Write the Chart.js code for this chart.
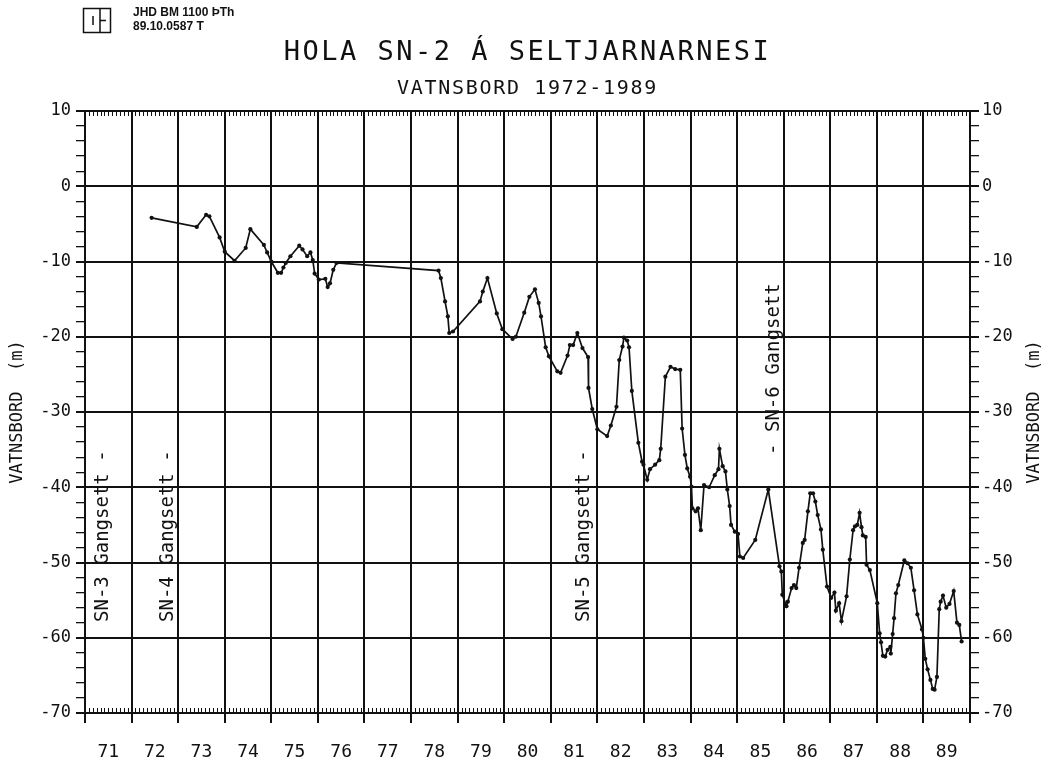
<!DOCTYPE html>
<html>
<head>
<meta charset="utf-8">
<script src="https://cdn.jsdelivr.net/npm/chart.js@4.4.0/dist/chart.umd.min.js"></script>
<style>
  html, body { margin: 0; padding: 0; background: #fff; }
  canvas { display: block; }
</style>
</head>
<body>
<canvas id="chart" width="1050" height="766"></canvas>
<script>
// water level in well SN-2 (decimal year, metres)
const years = [
  1972.43, 1973.40, 1973.60, 1973.67, 1973.89, 1974.00, 1974.21, 1974.45, 1974.55, 1974.84,
  1974.91, 1975.00, 1975.14, 1975.21, 1975.26, 1975.31, 1975.41, 1975.60, 1975.67, 1975.77,
  1975.84, 1975.89, 1975.93, 1976.02, 1976.16, 1976.21, 1976.26, 1976.33, 1976.40,
  1978.59, 1978.64, 1978.73, 1978.79, 1978.82, 1978.90, 1979.48, 1979.54, 1979.64, 1979.84,
  1979.96, 1980.18, 1980.25, 1980.43, 1980.54, 1980.66, 1980.74, 1980.79, 1980.89, 1980.96,
  1981.14, 1981.21, 1981.36, 1981.41, 1981.48, 1981.57, 1981.68, 1981.80, 1981.81, 1981.89,
  1982.00, 1982.21, 1982.29, 1982.41, 1982.47, 1982.54, 1982.57, 1982.64, 1982.68, 1982.74,
  1982.88, 1982.96, 1982.99, 1983.07, 1983.13, 1983.24, 1983.33, 1983.36, 1983.46, 1983.57,
  1983.67, 1983.78, 1983.82, 1983.88, 1983.93, 1983.99, 1984.02, 1984.04, 1984.11, 1984.16,
  1984.22, 1984.29, 1984.40, 1984.52, 1984.60, 1984.62, 1984.69, 1984.75, 1984.79, 1984.84,
  1984.87, 1984.95, 1985.02, 1985.06, 1985.13, 1985.39, 1985.67, 1985.91, 1985.95, 1985.97,
  1986.06, 1986.09, 1986.17, 1986.22, 1986.27, 1986.33, 1986.41, 1986.45, 1986.52, 1986.57,
  1986.63, 1986.68, 1986.73, 1986.80, 1986.84, 1986.93, 1987.02, 1987.09, 1987.12, 1987.19,
  1987.24, 1987.35, 1987.42, 1987.49, 1987.53, 1987.58, 1987.63, 1987.67, 1987.70, 1987.76,
  1987.78, 1987.85, 1988.01, 1988.06, 1988.09, 1988.13, 1988.18, 1988.23, 1988.29, 1988.30,
  1988.34, 1988.37, 1988.41, 1988.46, 1988.59, 1988.66, 1988.73, 1988.80, 1988.87, 1988.97,
  1989.00, 1989.04, 1989.09, 1989.15, 1989.20, 1989.24, 1989.29, 1989.34, 1989.37, 1989.42,
  1989.49, 1989.56, 1989.65, 1989.72, 1989.77, 1989.82
];
const levels = [
  -4.2, -5.4, -3.8, -4.0, -6.8, -8.7, -9.9, -8.2, -5.7, -7.8,
  -8.8, -10.0, -11.5, -11.5, -10.8, -10.2, -9.3, -7.9, -8.4, -9.3,
  -8.8, -9.8, -11.6, -12.4, -12.3, -13.4, -12.9, -11.1, -10.2,
  -11.2, -12.2, -15.3, -17.3, -19.5, -19.3, -15.3, -14.0, -12.2, -16.9,
  -19.0, -20.3, -20.0, -16.8, -14.7, -13.7, -15.5, -17.3, -21.4, -22.6,
  -24.6, -24.8, -22.5, -21.1, -21.1, -19.5, -21.5, -22.7, -26.8, -29.6,
  -32.3, -33.2, -31.8, -29.3, -23.1, -21.3, -20.1, -20.5, -21.4, -27.2,
  -34.1, -36.6, -37.0, -39.0, -37.6, -37.0, -36.4, -34.9, -25.3, -24.0,
  -24.3, -24.4, -32.2, -35.7, -37.5, -38.6, -39.9, -42.8, -43.2, -42.8,
  -45.7, -39.7, -40.0, -38.4, -37.6, -34.9, -37.2, -37.9, -40.3, -42.5,
  -45.0, -45.9, -46.2, -49.2, -49.4, -47.0, -40.3, -50.5, -51.2, -54.3,
  -55.8, -55.2, -53.4, -53.0, -53.4, -50.7, -47.4, -47.0, -43.2, -40.8,
  -40.8, -41.9, -43.7, -45.6, -48.3, -53.2, -54.7, -54.0, -56.4, -55.4,
  -57.8, -54.5, -49.6, -45.7, -45.2, -45.0, -43.4, -45.3, -46.4, -46.6,
  -50.3, -51.0, -55.4, -59.4, -60.6, -62.4, -62.5, -61.6, -61.2, -62.1,
  -59.5, -57.4, -54.1, -53.0, -49.7, -50.1, -50.7, -53.7, -56.9, -58.9,
  -60.0, -62.8, -64.2, -65.6, -66.8, -66.9, -65.2, -56.2, -55.2, -54.4,
  -56.0, -55.5, -53.8, -58.0, -58.3, -60.5
];
const yearLabels = ['71', '72', '73', '74', '75', '76', '77', '78', '79', '80',
                    '81', '82', '83', '84', '85', '86', '87', '88', '89'];
const levelMin = -70;
const levelMax = 10;

// "gangsett" (put into service) notes for neighbouring wells
const wellNotes = ['SN-3 Gangsett -', 'SN-4 Gangsett -', 'SN-5 Gangsett -', '- SN-6 Gangsett'];
const wellNoteYears = [1971.39, 1972.78, 1981.71, 1985.80];
const wellNoteLevels = [-57.9, -57.9, -57.9, -35.7];

const INK = '#111';
const MONO = '"DejaVu Sans Mono", monospace';

function isYear(c) {
  return c.tick && Number.isInteger(c.tick.value);
}
function isMajor(c) {
  return c.tick && c.tick.value % 10 === 0;
}

const decor = {
  id: 'decor',
  afterDraw(chart) {
    const ctx = chart.ctx;
    const xs = chart.scales.x, ys = chart.scales.y;
    const area = chart.chartArea;
    ctx.save();
    ctx.strokeStyle = INK;
    ctx.fillStyle = INK;

    // month ticks along top and bottom frame
    ctx.lineWidth = 1;
    ctx.beginPath();
    for (let yr = 1971; yr < 1990; yr++) {
      for (let m = 1; m < 12; m++) {
        const px = Math.round(xs.getPixelForValue(yr + m / 12)) + 0.5;
        ctx.moveTo(px, area.bottom);
        ctx.lineTo(px, area.bottom - 5);
        ctx.moveTo(px, area.top);
        ctx.lineTo(px, area.top + 5);
      }
    }
    ctx.stroke();

    // logo box
    ctx.lineWidth = 1.5;
    ctx.strokeRect(83.5, 8.5, 27, 24);
    ctx.beginPath();
    ctx.moveTo(100, 8.5); ctx.lineTo(100, 32.5);
    ctx.moveTo(100, 20.5); ctx.lineTo(106, 20.5);
    ctx.moveTo(93, 16); ctx.lineTo(93, 25);
    ctx.stroke();
    ctx.font = 'bold 12px "Liberation Sans", Arial, sans-serif';
    ctx.textAlign = 'left';
    ctx.textBaseline = 'middle';
    ctx.fillText('JHD BM 1100 ÞTh', 133, 13);
    ctx.fillText('89.10.0587 T', 133, 27);

    // titles
    const cx = (area.left + area.right) / 2;
    ctx.textAlign = 'center';
    ctx.font = '27px ' + MONO;
    ctx.letterSpacing = '2.5px';
    ctx.fillText('HOLA SN-2 Á SELTJARNARNESI', cx, 53);
    ctx.font = '20px ' + MONO;
    ctx.letterSpacing = '1.7px';
    ctx.fillText('VATNSBORD 1972-1989', cx, 89);
    ctx.letterSpacing = '0px';

    // axis titles, both read bottom to top
    ctx.font = '17px ' + MONO;
    const midY = (area.top + area.bottom) / 2;
    [18, 1035].forEach(x => {
      ctx.save();
      ctx.translate(x, midY);
      ctx.rotate(-Math.PI / 2);
      ctx.textAlign = 'center';
      ctx.fillText('VATNSBORD  (m)', 0, 0);
      ctx.restore();
    });

    // well notes
    ctx.font = '19px ' + MONO;
    wellNotes.forEach((t, i) => {
      const px = xs.getPixelForValue(wellNoteYears[i]);
      const py = ys.getPixelForValue(wellNoteLevels[i]);
      ctx.save();
      ctx.translate(px, py);
      ctx.rotate(-Math.PI / 2);
      ctx.textAlign = 'left';
      ctx.fillText(t, 0, 0);
      ctx.restore();
    });
    ctx.restore();
  }
};

const yearTicks = [];
for (let i = 0; i <= yearLabels.length; i++) {
  yearTicks.push({ value: 1971 + i });
  if (i < yearLabels.length) yearTicks.push({ value: 1971.5 + i });
}
const levelTicks = [];
for (let v = levelMin; v <= levelMax; v += 2) levelTicks.push({ value: v });

const tickFont = { family: MONO, size: 17 };

new Chart(document.getElementById('chart'), {
  type: 'line',
  data: {
    datasets: [{
      data: years.map((x, i) => ({ x: x, y: levels[i] })),
      borderColor: INK,
      borderWidth: 1.7,
      pointRadius: 2.1,
      pointBackgroundColor: INK,
      pointBorderWidth: 0,
      tension: 0
    }]
  },
  options: {
    responsive: false,
    animation: false,
    devicePixelRatio: 1,
    layout: { padding: { top: 111, left: 0, right: 0, bottom: 0 } },
    plugins: { legend: { display: false }, tooltip: { enabled: false } },
    scales: {
      x: {
        type: 'linear',
        min: 1971,
        max: 1990,
        afterBuildTicks: axis => { axis.ticks = yearTicks.map(t => ({ value: t.value })); },
        afterFit: s => { s.height = 53; },
        grid: {
          color: c => isYear(c) ? INK : 'transparent',
          tickColor: c => isYear(c) ? INK : 'transparent',
          lineWidth: 2,
          tickLength: 10
        },
        border: { color: INK, width: 2 },
        ticks: {
          autoSkip: false,
          maxRotation: 0,
          padding: 19,
          color: INK,
          font: { family: MONO, size: 18 },
          callback: v => Number.isInteger(v) ? '' : yearLabels[Math.floor(v) - 1971]
        }
      },
      y: {
        type: 'linear',
        position: 'left',
        min: levelMin,
        max: levelMax,
        afterBuildTicks: axis => { axis.ticks = levelTicks.map(t => ({ value: t.value })); },
        afterFit: s => { s.width = 85; },
        grid: {
          color: c => isMajor(c) ? INK : 'transparent',
          tickColor: INK,
          lineWidth: c => isMajor(c) ? 2 : 1.3,
          tickLength: 9
        },
        border: { color: INK, width: 2 },
        ticks: {
          autoSkip: false,
          padding: 5,
          color: INK,
          font: tickFont,
          callback: v => v % 10 === 0 ? String(v) : ''
        }
      },
      yR: {
        type: 'linear',
        position: 'right',
        min: levelMin,
        max: levelMax,
        afterBuildTicks: axis => { axis.ticks = levelTicks.map(t => ({ value: t.value })); },
        afterFit: s => { s.width = 80; },
        grid: {
          drawOnChartArea: false,
          color: INK,
          tickColor: INK,
          lineWidth: c => isMajor(c) ? 2 : 1.3,
          tickLength: 9
        },
        border: { color: INK, width: 2 },
        ticks: {
          autoSkip: false,
          padding: 3,
          color: INK,
          font: tickFont,
          callback: v => v % 10 === 0 ? String(v) : ''
        }
      }
    }
  },
  plugins: [decor]
});
</script>
</body>
</html>
